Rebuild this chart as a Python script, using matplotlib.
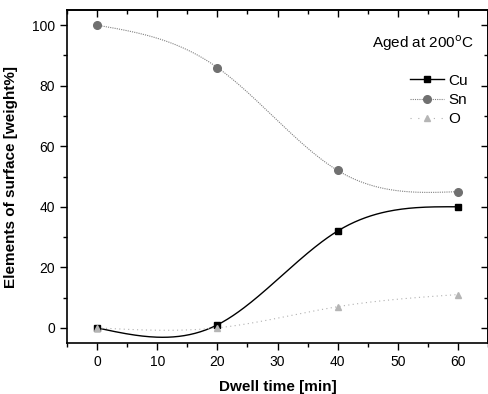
import numpy as np
import matplotlib
matplotlib.use("Agg")
import matplotlib.pyplot as plt
from matplotlib.ticker import MultipleLocator
from matplotlib.lines import Line2D

plt.rcParams['font.family'] = ['Liberation Sans', 'DejaVu Sans']

dwell = [0, 20, 40, 60]
cu = [0, 1, 32, 40]
sn = [100, 86, 52, 45]
o = [0, 0, 7, 11]


def natural_spline(x, y, n=200):
    x = np.asarray(x, float); y = np.asarray(y, float)
    m = len(x); h = np.diff(x)
    A = np.zeros((m, m)); b = np.zeros(m)
    A[0, 0] = 1; A[-1, -1] = 1
    for i in range(1, m - 1):
        A[i, i - 1] = h[i - 1]; A[i, i] = 2 * (h[i - 1] + h[i]); A[i, i + 1] = h[i]
        b[i] = 6 * ((y[i + 1] - y[i]) / h[i] - (y[i] - y[i - 1]) / h[i - 1])
    M = np.linalg.solve(A, b)
    xs = np.linspace(x[0], x[-1], n); ys = np.empty_like(xs)
    for k, t in enumerate(xs):
        i = min(np.searchsorted(x, t, side='right') - 1, m - 2)
        a = x[i + 1] - t; c = t - x[i]
        ys[k] = (M[i] * a**3 + M[i + 1] * c**3) / (6 * h[i]) + (y[i] / h[i] - M[i] * h[i] / 6) * a + (y[i + 1] / h[i] - M[i + 1] * h[i] / 6) * c
    return xs, ys


fig = plt.figure(figsize=(4.89, 3.94), dpi=100)
ax = fig.add_axes([0.137, 0.1294, 0.861, 0.8452])

series = [
    ("Cu", cu, dict(color='black', ls='-', lw=1.0), dict(marker='s', color='black', ms=5)),
    ("Sn", sn, dict(color='#808080', ls=(0, (1, 1)), lw=0.8), dict(marker='o', color='#707070', ms=5.5)),
    ("O", o, dict(color='#b0b0b0', ls=(0, (1, 3)), lw=0.8), dict(marker='^', color='#b5b5b5', ms=5)),
]
handles = []
for name, vals, lstyle, mstyle in series:
    xs, ys = natural_spline(dwell, vals)
    ax.plot(xs, ys, **lstyle)
    ax.plot(dwell, vals, ls='none', marker=mstyle['marker'], color=mstyle['color'], ms=mstyle['ms'])
    legend_ls = lstyle['ls'] if name != "O" else (0, (1, 6))
    handles.append(Line2D([], [], marker=mstyle['marker'], color=lstyle['color'], ls=legend_ls,
                          lw=lstyle['lw'], markerfacecolor=mstyle['color'], markeredgecolor=mstyle['color'],
                          ms=mstyle['ms']))

ax.set_xlim(-5, 65)
ax.set_ylim(-5, 105)
ax.xaxis.set_major_locator(MultipleLocator(10))
ax.xaxis.set_minor_locator(MultipleLocator(5))
ax.yaxis.set_major_locator(MultipleLocator(20))
ax.yaxis.set_minor_locator(MultipleLocator(10))
ax.tick_params(which='both', labelsize=10, direction='out')
ax.tick_params(which='major', length=5, width=1)
ax.tick_params(which='minor', length=3, width=1)
for sp in ax.spines.values():
    sp.set_linewidth(1.2)

top = ax.secondary_xaxis('top')
top.xaxis.set_major_locator(MultipleLocator(10))
top.xaxis.set_minor_locator(MultipleLocator(5))
top.tick_params(which='both', direction='in', labeltop=False, width=1)
top.tick_params(which='major', length=5)
top.tick_params(which='minor', length=3)
top.spines['top'].set_linewidth(1.2)

right = ax.secondary_yaxis('right')
right.yaxis.set_major_locator(MultipleLocator(20))
right.yaxis.set_minor_locator(MultipleLocator(10))
right.tick_params(which='both', direction='in', labelright=False, width=1)
right.tick_params(which='major', length=5)
right.tick_params(which='minor', length=3)
right.spines['right'].set_linewidth(1.2)

ax.set_xlabel("Dwell time [min]", fontsize=11, fontweight='bold', labelpad=8)
ax.set_ylabel("Elements of surface [weight%]", fontsize=11, fontweight='bold', labelpad=10)

ax.text(0.965, 0.9, "Aged at 200$^{\\mathrm{o}}$C", transform=ax.transAxes, ha='right', va='center', fontsize=11)
ax.legend(handles, ["Cu", "Sn", "O"], loc='upper right', bbox_to_anchor=(0.985, 0.85), frameon=False,
          fontsize=11, handlelength=2.2, handletextpad=0.3, labelspacing=0.35)

fig.savefig("out.png", dpi=100)
